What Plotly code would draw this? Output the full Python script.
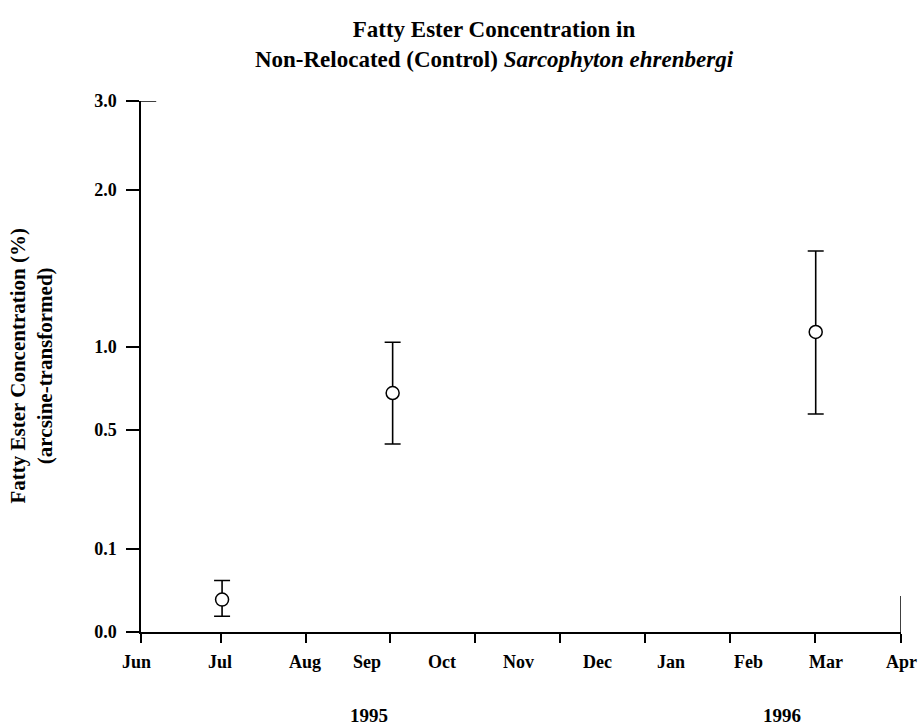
import numpy as np
import plotly.graph_objects as go

# ---- data ----
month_labels = ["Jun", "Jul", "Aug", "Sep", "Oct", "Nov", "Dec", "Jan", "Feb", "Mar", "Apr"]
month_label_pos = [-0.05, 0.94, 1.94, 2.68, 3.57, 4.47, 5.41, 6.28, 7.19, 8.11, 9.0]
x_tick_pos = [0, 0.95, 1.95, 2.95, 3.96, 4.96, 5.97, 6.98, 7.98, 9.0]
year_labels = ["1995", "1996"]
year_label_pos = [2.7, 7.59]

y_tick_labels = ["0.0", "0.1", "0.5", "1.0", "2.0", "3.0"]
y_tick_values = [0.0, 0.1, 0.5, 1.0, 2.0, 3.0]
y_tick_pos = [0.0, 0.469, 1.141, 1.610, 2.497, 3.0]   # transformed axis positions

sample_x = [0.96, 2.98, 7.99]          # Jul, Sep, Mar
mean_vals = [0.039, 0.723, 1.096]
upper_vals = [0.062, 1.03, 1.612]
lower_vals = [0.019, 0.453, 0.597]

X_MAX = 9.0


def to_axis(v):
    return np.interp(v, y_tick_values, y_tick_pos)


ym = to_axis(mean_vals)
yu = to_axis(upper_vals)
yl = to_axis(lower_vals)

FONT = "Liberation Serif"

fig = go.Figure()
fig.add_trace(go.Scatter(
    x=sample_x, y=ym, mode="markers",
    marker=dict(symbol="circle", size=13, color="white",
                line=dict(color="black", width=1.5)),
    error_y=dict(type="data", symmetric=False, array=yu - ym, arrayminus=ym - yl,
                 color="black", thickness=1.6, width=8),
    showlegend=False, xaxis="x", yaxis="y",
))

fig.update_layout(
    width=921, height=727,
    margin=dict(l=141, r=20, t=101, b=95, autoexpand=False),
    paper_bgcolor="white", plot_bgcolor="white",
    font=dict(family=FONT, color="black"),
    title=dict(
        text="<b>Fatty Ester Concentration in<br>Non-Relocated (Control) <i>Sarcophyton ehrenbergi</i></b>",
        x=494 / 921, xref="container", xanchor="center",
        y=1 - 37 / 727, yref="container", yanchor="middle",
        font=dict(family=FONT, size=23, color="black"),
    ),
    xaxis=dict(
        range=[0, X_MAX], showgrid=False, zeroline=False,
        showline=True, linecolor="black", linewidth=1.5,
        tickmode="array", tickvals=x_tick_pos, showticklabels=False,
        ticks="outside", ticklen=9, tickwidth=1.5, tickcolor="black",
    ),
    yaxis=dict(
        range=[0, 3], showgrid=False, zeroline=False,
        showline=True, linecolor="black", linewidth=1.5,
        tickmode="array", tickvals=y_tick_pos,
        ticktext=["<b>%s</b>" % t for t in y_tick_labels],
        ticks="outside", ticklen=13, tickwidth=1.5, tickcolor="black",
        tickfont=dict(family=FONT, size=18, color="black"),
        ticklabelstandoff=6,
    ),
)

# short inner strokes at the far ends of the axes
fig.add_shape(type="line", xref="x", yref="paper", x0=X_MAX, x1=X_MAX, y0=0, y1=0.068,
              line=dict(color="black", width=1.5))
fig.add_shape(type="line", xref="paper", yref="y", x0=0, x1=0.02, y0=3, y1=3,
              line=dict(color="black", width=1.5))

for lab, pos in zip(month_labels, month_label_pos):
    fig.add_annotation(x=pos / X_MAX, xref="paper", xanchor="center",
                       y=0, yref="paper", yanchor="middle",
                       yshift=-(662 - 632), text="<b>%s</b>" % lab, showarrow=False,
                       font=dict(family=FONT, size=18, color="black"))

for lab, pos in zip(year_labels, year_label_pos):
    fig.add_annotation(x=pos / X_MAX, xref="paper", xanchor="center",
                       y=0, yref="paper", yanchor="middle",
                       yshift=-(715 - 632), text="<b>%s</b>" % lab, showarrow=False,
                       font=dict(family=FONT, size=19, color="black"))

fig.add_annotation(
    x=0, xref="paper", xanchor="center",
    y=0.5, yref="paper", yanchor="middle",
    text="<b>Fatty Ester Concentration (%)<br>(arcsine-transformed)</b>",
    textangle=-90, showarrow=False, xshift=-(141 - 31),
    font=dict(family=FONT, size=21, color="black"),
)

fig.write_html("out.html")
